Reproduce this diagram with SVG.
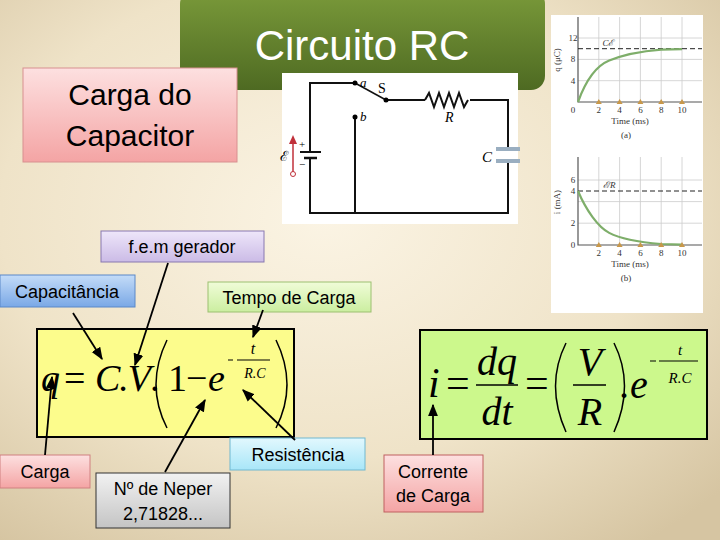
<svg xmlns="http://www.w3.org/2000/svg" width="720" height="540" viewBox="0 0 720 540">
<defs>
<radialGradient id="bg" cx="0.45" cy="0.4" r="0.75"><stop offset="0" stop-color="#fbf4e4"/><stop offset="0.6" stop-color="#efe3c8"/><stop offset="1" stop-color="#d6c5a2"/></radialGradient>
<linearGradient id="gt" x1="0" y1="0" x2="0" y2="1"><stop offset="0" stop-color="#7a9a3a"/><stop offset="1" stop-color="#4e6a22"/></linearGradient>
<linearGradient id="pk" x1="0" y1="0" x2="0" y2="1"><stop offset="0" stop-color="#fde0e0"/><stop offset="1" stop-color="#f4a4a4"/></linearGradient>
<linearGradient id="pu" x1="0" y1="0" x2="0" y2="1"><stop offset="0" stop-color="#eee6fa"/><stop offset="1" stop-color="#cbbbe6"/></linearGradient>
<linearGradient id="bl" x1="0" y1="0" x2="0" y2="1"><stop offset="0" stop-color="#c4dcf8"/><stop offset="1" stop-color="#7aa8e6"/></linearGradient>
<linearGradient id="gr" x1="0" y1="0" x2="0" y2="1"><stop offset="0" stop-color="#f0fcd8"/><stop offset="1" stop-color="#cbeea0"/></linearGradient>
<linearGradient id="cy" x1="0" y1="0" x2="0" y2="1"><stop offset="0" stop-color="#e2f8fe"/><stop offset="1" stop-color="#a8e6f8"/></linearGradient>
<linearGradient id="gy" x1="0" y1="0" x2="0" y2="1"><stop offset="0" stop-color="#f2f2f2"/><stop offset="1" stop-color="#c4c4c4"/></linearGradient>
<marker id="ah" viewBox="0 0 10 10" refX="9" refY="5" markerWidth="7" markerHeight="7" orient="auto"><path d="M0,1 L10,5 L0,9 Z" fill="#000"/></marker>
</defs>
<style>
.lbl{font-family:"Liberation Sans",Arial,sans-serif;font-size:18px;fill:#000;text-anchor:middle}
.big{font-size:30px}
.m{font-family:"Liberation Serif","Times New Roman",serif;font-style:italic;fill:#000}
.r{font-family:"Liberation Serif","Times New Roman",serif;fill:#000}
.g{font-family:"Liberation Serif",serif;font-size:9px;fill:#333;text-anchor:middle}
.w{stroke:#111;stroke-width:2;fill:none}
.grid{stroke:#ccc;stroke-width:0.8}
</style>
<rect width="720" height="540" fill="url(#bg)"/>

<g id="title"><rect x="180" y="-10" width="365" height="100" rx="14" fill="url(#gt)"/>
<text x="362" y="60" font-family="Liberation Sans,Arial,sans-serif" font-size="42" fill="#fff" text-anchor="middle">Circuito RC</text></g>

<g id="circuit">
<rect x="282" y="73" width="236" height="151" fill="#fff"/>
<path class="w" d="M355,83 H310 V213 H508 V100 H470 M425,100 H386 M355,117 V213"/>
<path class="w" d="M425,100 l4,-7 l5,14 l5,-14 l5,14 l5,-14 l5,14 l5,-14 l5,14 l4,-7"/>
<line x1="355" y1="83" x2="386" y2="100" stroke="#111" stroke-width="1.5"/>
<circle cx="355" cy="83" r="2.5"/><circle cx="386" cy="100" r="2.5"/><circle cx="355" cy="117" r="2.5"/>
<text x="360" y="87" class="m" font-size="13">a</text><text x="378" y="93" class="r" font-size="14">S</text><text x="360" y="121" class="m" font-size="13">b</text>
<text x="445" y="122" class="m" font-size="14">R</text><text x="482" y="162" class="m" font-size="15">C</text>
<rect x="496" y="147" width="24" height="4" fill="#9aaec0"/><rect x="496" y="159" width="24" height="4" fill="#9aaec0"/>
<rect x="505" y="151" width="6" height="8" fill="#fff"/>
<rect x="300" y="151" width="22" height="7" fill="#fff"/>
<line x1="300" y1="152" x2="321" y2="152" stroke="#111" stroke-width="2"/>
<line x1="304" y1="158" x2="317" y2="158" stroke="#111" stroke-width="2.5"/>
<text x="299" y="148" class="r" font-size="11">+</text><text x="299" y="168" class="r" font-size="11">−</text>
<line x1="293" y1="172" x2="293" y2="142" stroke="#c0303a" stroke-width="1.5"/><path d="M289,144 L293,135 L297,144 Z" fill="#c0303a"/>
<circle cx="293" cy="174" r="2.5" fill="#fff" stroke="#c0303a"/>
<text x="280" y="161" class="r" font-size="14">ℰ</text>
</g>

<g id="graphs">
<rect x="551" y="15" width="152" height="298" fill="#fff"/>
<g class="grid"><line x1="598.8" y1="17" x2="598.8" y2="102"/><line x1="619.6" y1="17" x2="619.6" y2="102"/><line x1="640.4" y1="17" x2="640.4" y2="102"/><line x1="661.2" y1="17" x2="661.2" y2="102"/><line x1="682" y1="17" x2="682" y2="102"/>
<line x1="578" y1="38" x2="702" y2="38"/><line x1="578" y1="59.4" x2="702" y2="59.4"/><line x1="578" y1="80.7" x2="702" y2="80.7"/>
<line x1="598.8" y1="157" x2="598.8" y2="245"/><line x1="619.6" y1="157" x2="619.6" y2="245"/><line x1="640.4" y1="157" x2="640.4" y2="245"/><line x1="661.2" y1="157" x2="661.2" y2="245"/><line x1="682" y1="157" x2="682" y2="245"/>
<line x1="578" y1="180" x2="702" y2="180"/><line x1="578" y1="201.6" x2="702" y2="201.6"/><line x1="578" y1="223.2" x2="702" y2="223.2"/></g>
<path d="M578,17 V102 H702 M578,157 V245 H702" stroke="#555" stroke-width="1.2" fill="none"/>
<line x1="578" y1="48.7" x2="702" y2="48.7" stroke="#222" stroke-dasharray="5,3"/>
<line x1="578" y1="191" x2="702" y2="191" stroke="#222" stroke-dasharray="5,3"/>
<path d="M578,102 C586,80 596,66 609.2,60.6 S640,51.4 661.2,49.7 L682,49.1" stroke="#7eae6a" stroke-width="2.2" fill="none"/>
<path d="M578,191 C586,210 598,227 609.2,232.9 S640,242.3 661.2,244 L682,244.6" stroke="#7eae6a" stroke-width="2.2" fill="none"/>
<g fill="#c8984a"><path d="M595.8,104 l3,-5 l3,5Z M616.6,104 l3,-5 l3,5Z M637.4,104 l3,-5 l3,5Z M658.2,104 l3,-5 l3,5Z M679,104 l3,-5 l3,5Z"/>
<path d="M595.8,247 l3,-5 l3,5Z M616.6,247 l3,-5 l3,5Z M637.4,247 l3,-5 l3,5Z M658.2,247 l3,-5 l3,5Z M679,247 l3,-5 l3,5Z"/></g>
<g class="g"><text x="573" y="41">12</text><text x="573" y="62">8</text><text x="573" y="84">4</text><text x="573" y="113">0</text>
<text x="598.8" y="113">2</text><text x="619.6" y="113">4</text><text x="640.4" y="113">6</text><text x="661.2" y="113">8</text><text x="682" y="113">10</text>
<text x="630" y="124">Time (ms)</text><text x="626" y="138">(a)</text><text x="608" y="46" font-style="italic">Cℰ</text>
<text x="573" y="183">6</text><text x="573" y="194">4</text><text x="573" y="226">2</text><text x="573" y="248">0</text>
<text x="598.8" y="256">2</text><text x="619.6" y="256">4</text><text x="640.4" y="256">6</text><text x="661.2" y="256">8</text><text x="682" y="256">10</text>
<text x="630" y="267">Time (ms)</text><text x="626" y="281">(b)</text><text x="609" y="188" font-style="italic">ℰ/R</text>
<text transform="translate(560,60) rotate(-90)">q (μC)</text><text transform="translate(560,202) rotate(-90)">i (mA)</text></g>
</g>

<g id="carga-capacitor"><rect x="23" y="68" width="214" height="94" fill="url(#pk)" stroke="#d89090"/>
<text x="130" y="105" class="lbl big">Carga do</text><text x="130" y="146" class="lbl big">Capacitor</text></g>

<g id="formula1"><rect x="37" y="329" width="257" height="108" fill="#fcfc8c" stroke="#000" stroke-width="2"/>
<text x="41" y="391" class="m" font-size="38">q</text><text x="64" y="391" class="r" font-size="38">=</text>
<text x="95" y="391" class="m" font-size="38" textLength="56">C.V</text><text x="150" y="391" class="r" font-size="38">.</text>
<path d="M167,340 Q145,385 167,428" stroke="#000" stroke-width="1.5" fill="none"/>
<path d="M276,340 Q298,385 276,428" stroke="#000" stroke-width="1.5" fill="none"/>
<text x="168" y="391" class="r" font-size="38">1</text><text x="186" y="391" class="r" font-size="38">−</text><text x="208" y="391" class="m" font-size="38">e</text>
<line x1="228" y1="360" x2="233" y2="360" stroke="#000"/><line x1="237" y1="360" x2="270" y2="360" stroke="#000"/>
<text x="253" y="354" class="m" font-size="16" text-anchor="middle">t</text><text x="255" y="378" class="m" font-size="14" text-anchor="middle">R.C</text></g>

<g id="formula2"><rect x="420" y="330" width="287" height="109" fill="#ccf88c" stroke="#000" stroke-width="2"/>
<text x="428" y="397" class="m" font-size="42">i</text><text x="446" y="397" class="r" font-size="42">=</text>
<text x="497" y="375" class="m" font-size="40" text-anchor="middle">dq</text><line x1="476" y1="385" x2="518" y2="385" stroke="#000" stroke-width="1.5"/>
<text x="497" y="425" class="m" font-size="40" text-anchor="middle">dt</text>
<text x="525" y="397" class="r" font-size="42">=</text>
<path d="M566,343 Q545,385 566,432" stroke="#000" stroke-width="1.5" fill="none"/><path d="M614,343 Q635,385 614,432" stroke="#000" stroke-width="1.5" fill="none"/>
<text x="590" y="375" class="m" font-size="40" text-anchor="middle">V</text><line x1="573" y1="385" x2="606" y2="385" stroke="#000" stroke-width="1.5"/>
<text x="590" y="425" class="m" font-size="40" text-anchor="middle">R</text>
<text x="620" y="398" class="m" font-size="40">.e</text>
<line x1="650" y1="361" x2="656" y2="361" stroke="#000"/><line x1="659" y1="361" x2="698" y2="361" stroke="#000"/>
<text x="680" y="355" class="m" font-size="15" text-anchor="middle">t</text><text x="680" y="383" class="m" font-size="15" text-anchor="middle">R.C</text></g>

<g id="fem"><rect x="101" y="231" width="163" height="31" fill="url(#pu)" stroke="#8878b0"/><text x="182" y="253" class="lbl">f.e.m gerador</text></g>
<g id="capacitancia"><rect x="0" y="275" width="135" height="32" fill="url(#bl)" stroke="#5a88c8"/><text x="67" y="298" class="lbl">Capacitância</text></g>
<g id="tempo"><rect x="208" y="282" width="163" height="30" fill="url(#gr)" stroke="#9cc070"/><text x="289" y="304" class="lbl">Tempo de Carga</text></g>
<g id="resistencia"><rect x="230" y="438" width="135" height="32" fill="url(#cy)" stroke="#70b8d0"/><text x="298" y="461" class="lbl">Resistência</text></g>
<g id="carga"><rect x="0" y="455" width="90" height="33" fill="url(#pk)" stroke="#d08080"/><text x="45" y="478" class="lbl">Carga</text></g>
<g id="neper"><rect x="96" y="473" width="134" height="55" fill="url(#gy)" stroke="#333"/><text x="163" y="495" class="lbl">Nº de Neper</text><text x="163" y="520" class="lbl">2,71828...</text></g>
<g id="corrente"><rect x="384" y="455" width="99" height="57" fill="url(#pk)" stroke="#c06060"/><text x="433" y="478" class="lbl">Corrente</text><text x="433" y="502" class="lbl">de Carga</text></g>

<g id="connectors" stroke="#000" stroke-width="1.8" fill="none" marker-end="url(#ah)">
<line x1="73" y1="313" x2="102" y2="359"/>
<line x1="168" y1="263" x2="135" y2="365"/>
<line x1="263" y1="310" x2="253" y2="337"/>
<line x1="295" y1="440" x2="243" y2="390"/>
<line x1="165" y1="472" x2="205" y2="400"/>
<line x1="45" y1="455" x2="52" y2="377"/>
<line x1="433" y1="455" x2="433" y2="405"/>
</g>
</svg>
